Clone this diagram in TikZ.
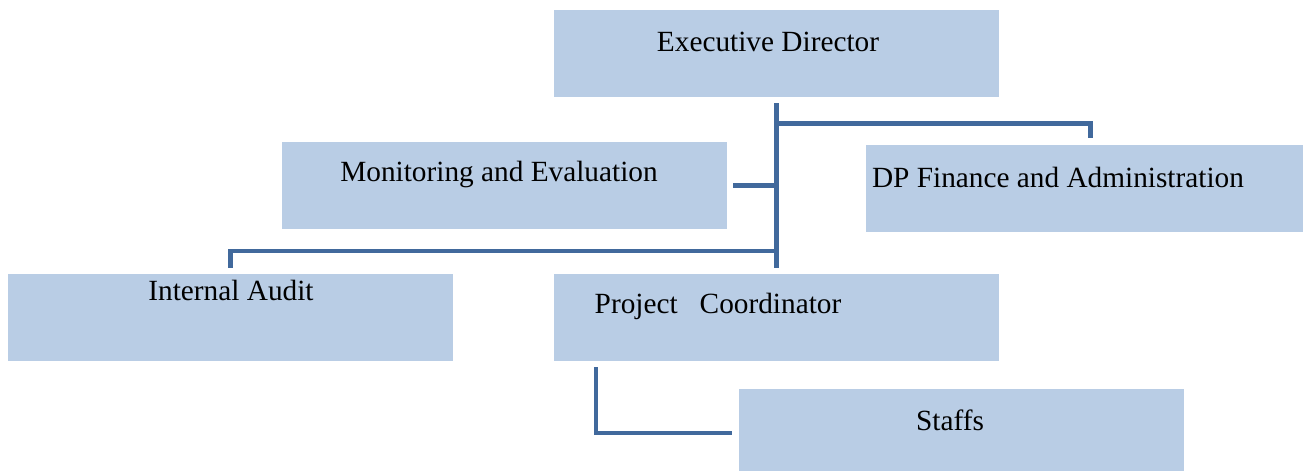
\documentclass[tikz,border=0pt]{standalone}
\usepackage{fontspec}
\setmainfont{Liberation Serif}
\usetikzlibrary{positioning,calc}
\definecolor{boxfill}{HTML}{B9CDE5}
\definecolor{linkblue}{HTML}{41699C}
\tikzset{
  post/.style={fill=boxfill, minimum width=445pt, minimum height=87pt, inner sep=0pt, anchor=north west},
  title/.style={font=\fontsize{29.3}{34}\selectfont, inner sep=0pt, anchor=base},
  link/.style={draw=linkblue, line width=4.5pt},
}
\begin{document}
\begin{tikzpicture}[x=1pt,y=-1pt]
\useasboundingbox (0,0) rectangle (1303,471);
% boxes
\node[post] (ed) at (554,10) {};
\node[post] (me) at (282,142) {};
\node[post, minimum width=437pt] (dp) at (866,145) {};
\node[post] (ia) at (8,274) {};
\node[post] (pc) at (554,274) {};
\node[post, minimum height=82pt] (st) at (739,389) {};

% texts
\node[title] (edt) at (768,51) {Executive Director};
\node[title] (met) at (499,181) {Monitoring and Evaluation};
\node[title] (dpt) at (1058,187) {DP Finance and Administration};
\node[title] (iat) at (231,300) {Internal Audit};
\node[title] (pct) at (718,313) {Project\ \ \ Coordinator};
\node[title] (stt) at (950,430) {Staffs};

% connectors
\coordinate (forkdp) at ([yshift=-26pt]ed.south);
\coordinate (forkia) at ([yshift=23pt]pc.north);
\draw[link] ([yshift=-6pt]ed.south) -- ([yshift=6pt]pc.north);
\draw[link] (forkdp) -| ([xshift=6pt,yshift=7pt]dp.north);
\draw[link] ([xshift=6pt]me.east) -- (me.east -| ed.south);
\draw[link] (forkia) -| ([yshift=6pt]ia.north);
\draw[link] ([xshift=42pt,yshift=-6pt]pc.south west) |- ([xshift=-7pt,yshift=-3pt]st.west);
\end{tikzpicture}
\end{document}
